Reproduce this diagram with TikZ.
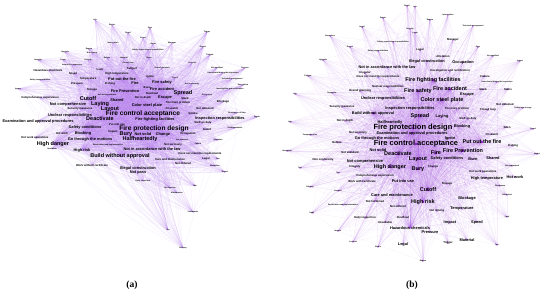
\documentclass[tikz,border=0pt]{standalone}
\usepackage{fontspec}
\newfontfamily\wordfont{Liberation Sans}
\newfontfamily\labelfont{Liberation Serif}
\pgfdeclarelayer{edges}\pgfdeclarelayer{dots}
\pgfsetlayers{edges,dots,main}
\definecolor{edgea}{RGB}{180,125,235}
\definecolor{edgeb}{RGB}{160,80,220}
\definecolor{dotc}{RGB}{140,20,200}
\tikzset{
 word/.style={inner sep=0pt, text=black, font=\wordfont\bfseries\fontsize{#1}{#1}\selectfont},
 w1/.style={word=1.9}, w2/.style={word=2.8}, w3/.style={word=3.9},
 w4/.style={word=5.5}, w5/.style={word=6.6}, w6/.style={word=7.5},
 linka/.style={draw=edgea, line width=0.3pt, opacity=0.14},
 linkb/.style={draw=edgeb, line width=0.25pt, opacity=0.1},
 dot/.style={fill=dotc},
 panellabel/.style={inner sep=0pt, font=\labelfont\bfseries\fontsize{9.5}{10}\selectfont}
}
\begin{document}
\begin{tikzpicture}[x=1pt,y=-1pt]
\useasboundingbox (0,0) rectangle (550,297);
% ---------------- panel (a) ----------------
\foreach \x/\y/\s/\t [count=\i] in {
95/20/w1/Lab, 112/25/w1/Repair, 128/33/w1/Rapid, 150/28/w1/Sign, 207/32/w1/Trigger,
143/38/w1/Guard, 172/43/w1/Manager, 113/43/w1/Intervention, 153/44/w1/Alarm, 89/49/w1/Region,
148/50/w1/Safety supervision responsibilities, 203/47/w1/Export, 65/52/w1/Upgrade, 92/53/w1/Not driving, 210/55/w1/Tailgate,
107/58/w1/Refuse, 124/58/w1/Material, 149/58/w1/Stairs, 128/63/w1/Closed loop, 38/60/w1/Integrity,
63/60/w1/Asset, 88/60/w1/Security, 192/63/w1/Lockout, 72/65/w1/Annual fire inspection, 162/68/w1/Overall planning,
217/68/w1/Not qualified, 245/68/w1/Furnace, 100/69/w2/Lock, 132/69/w2/Subject, 48/70/w2/Hazardous chemicals,
73/74/w2/Speed, 117/74/w2/High temperature, 223/73/w1/It was found during the inspection, 40/80/w1/Safety responsibilities, 88/79/w2/Temperature,
122/79/w3/Put out the fire, 175/78/w1/Check, 232/79/w1/Technical management, 150/77/w2/Ignite, 162/82/w3/Fire safety,
192/84/w1/Non conformity, 135/83/w3/Fire, 77/84/w2/Pressure, 110/84/w2/Fishing, 147/88/w2/Burn,
162/89/w3/Fire accident, 230/89/w1/Investigation and rectification, 243/85/w1/Description, 18/89/w1/Ignore, 92/90/w2/Storage,
125/91/w3/Fire Prevention, 152/93/w2/Overhaul, 183/93/w4/Spread, 107/95/w1/Hot work operations, 40/98/w2/Comprehensive supervision,
88/99/w4/Cutoff, 117/100/w3/Shared, 143/98/w2/Not in depth, 165/98/w3/Escape, 185/98/w2/Stack,
207/95/w1/Occupancy, 68/104/w3/Not comprehensive, 100/104/w4/Laying, 147/105/w3/Color steel plate, 178/103/w2/The main problem,
223/102/w2/Blockage, 80/109/w2/Security measures, 110/109/w4/Layout, 172/108/w2/On watch, 205/108/w2/Not obtained,
70/115/w3/Unclear responsibilities, 143/114/w5/Fire control acceptance, 193/113/w2/Smoke, 237/113/w1/Description of duty, 257/117/w1/Repair,
38/121/w3/Examination and approval procedures, 100/119/w4/Deactivate, 155/119/w3/Fire fighting facilities, 220/118/w3/Inspection responsibilities, 117/124/w2/Put into use,
85/127/w3/Safety conditions, 154/129/w5/Fire protection design, 203/123/w2/Staff on duty, 235/128/w1/Uncharacteristic, 207/129/w2/Guard,
62/133/w2/Hot work, 83/133/w3/Blocking, 113/132/w2/Impact, 35/138/w2/Hot work operations, 90/139/w3/Go through the motions,
126/134/w4/Bury, 143/134/w3/Not solid, 163/134/w3/Change, 188/134/w2/Occupation, 53/144/w4/High danger,
140/139/w4/Halfheartedly, 182/140/w1/Not standard, 198/144/w1/Failure, 218/140/w1/Alteration, 52/149/w1/Vandalism,
82/150/w3/High risk, 108/145/w1/Rectification and implementation, 173/145/w2/Not seriously, 152/149/w3/Not in accordance with the law, 120/156/w4/Build without approval,
200/154/w2/Does not meet the requirements, 170/159/w2/Care and maintenance, 206/159/w2/Legal, 218/159/w1/Fire, 183/163/w2/Not ordered,
215/166/w1/Workplace, 92/165/w2/Work without certificate, 138/168/w3/Illegal construction, 138/173/w3/Not pass, 225/172/w1/Export,
143/181/w1/Daily inspection, 195/186/w1/Site, 170/188/w1/Not rigorous, 177/193/w1/Maintenance, 193/212/w1/Inadequate,
168/230/w1/Tax, 183/248/w1/Delivery}
{ \node[style=\s] (a\i) at (\x,\y) {\t}; }
\begin{pgfonlayer}{edges}
\foreach \i in {1,...,122} {
  \foreach \h in {72,82,68,63,56,77,53,96,105,95,91,46,64,78,51,81,90,36,40,57,59,87,93,101,104} {
    \ifnum\i=\h\else \draw[linka] (a\i.center) to[bend left=12] (a\h.center); \fi
  }
  \foreach \k in {5,17,41,59} {
    \pgfmathtruncatemacro\j{mod(\i+\k-1,122)+1}
    \draw[linka] (a\i.center) to[bend left=12] (a\j.center);
  }
}
\end{pgfonlayer}
% ---------------- panel (b) ----------------
\foreach \x/\y/\s/\t [count=\i] in {
407/6/w1/Rapid, 383/18/w1/Repair, 415/7/w1/Lab, 448/15/w1/Intervention, 430/20/w1/Region,
362/27/w1/Angel, 410/29/w1/Security, 473/26/w1/Technical management, 330/36/w1/Hazardous, 415/33/w1/Asset,
393/42/w1/Safety supervision responsibilities, 350/47/w1/Export, 453/40/w2/Manager, 378/51/w1/Safety responsibilities, 478/47/w1/Sign,
420/50/w2/Legal, 443/56/w2/Alteration, 493/56/w1/Not qualified, 323/60/w1/Upgrade, 520/61/w1/Ignore,
427/61/w3/Illegal construction, 463/62/w3/Occupation, 387/67/w3/Not in accordance with the law, 365/73/w2/Irregular, 378/77/w2/Does not meet the requirements,
450/71/w2/Investigation and rectification, 308/76/w1/Tailgate, 485/76/w2/Failure, 433/80/w4/Fire fighting facilities, 497/82/w1/It was found during the inspection,
295/94/w1/Lab, 332/93/w1/Supervise, 360/91/w2/Overall planning, 388/87/w2/Nuclear responsibilities, 418/91/w4/Fire safety,
450/89/w4/Fire accident, 483/89/w2/Stack, 508/89/w2/Stairs, 383/98/w3/Unclear responsibilities, 442/100/w4/Color steel plate,
467/95/w3/Escape, 505/104/w2/Not obtained, 523/108/w1/Safety into storage, 342/107/w2/Security measures, 410/108/w3/Inspection responsibilities,
457/109/w2/The main problem, 488/110/w2/Closed loop, 373/113/w3/Build without approval, 290/122/w1/Lab, 345/121/w2/Not in depth,
390/122/w3/Halfheartedly, 420/116/w4/Spread, 442/117/w3/Laying, 468/119/w2/Staff on duty, 413/128/w6/Fire protection design,
462/126/w3/Blocking, 507/127/w2/Siren, 533/129/w1/Guard, 310/135/w1/Comprehensive, 358/133/w2/Not seriously,
377/138/w3/Go through the motions, 412/133/w3/Examination and approval procedures, 492/134/w2/On watch, 337/142/w2/Refuse, 416/144/w6/Fire control acceptance,
450/138/w3/Ignite, 482/142/w4/Put out the fire, 513/146/w2/Fishing, 287/151/w1/Vandalism, 350/152/w2/Not standard,
378/150/w3/Not solid, 398/154/w4/Deactivate, 436/153/w4/Fire, 463/151/w4/Fire Prevention, 537/154/w1/Nudge,
323/160/w2/Non conformity, 365/161/w3/Not comprehensive, 418/159/w4/Layout, 447/158/w3/Safety conditions, 473/159/w3/Burn,
493/158/w3/Shared, 512/166/w1/Not guaranteed, 300/168/w1/Tail, 355/167/w2/Integrity, 390/167/w4/High danger,
418/169/w4/Bury, 433/167/w2/Change, 338/173/w1/Tax, 375/176/w2/Comprehensive supervision, 483/172/w2/Hot work operations,
487/178/w3/High temperature, 515/177/w3/Hot work, 403/181/w3/Put into use, 362/181/w2/Work with certificate, 447/184/w2/Storage,
500/186/w1/Storehouse, 310/187/w1/Delivery, 338/191/w1/Furnace, 392/195/w3/Care and maintenance, 428/190/w4/Cutoff,
375/201/w2/Not hardened, 467/198/w3/Blockage, 507/195/w1/Unblocked, 343/205/w1/Rectification and implementation, 398/206/w2/Not ordered,
423/202/w4/High risk, 312/213/w1/Daily, 437/211/w2/Not driving, 462/209/w3/Temperature, 365/218/w2/Daily inspection,
403/217/w2/Overhaul, 507/217/w1/Lock, 385/222/w2/Unsuitable, 450/223/w3/Impact, 477/222/w3/Speed,
338/231/w1/Inspect, 410/228/w3/Hazardous chemicals, 430/232/w3/Pressure, 353/242/w1/Lockout, 378/247/w1/Status,
403/244/w3/Legal, 467/240/w3/Material, 448/243/w2/Trigger, 497/245/w1/Lab, 423/261/w1/Region}
{ \node[style=\s] (b\i) at (\x,\y) {\t}; }
\begin{pgfonlayer}{dots}
\foreach \i in {1,...,125} { \fill[dot] (b\i.center) circle[radius=0.7pt]; }
\foreach \h in {55,65,52,78,72,36,40,29,73,74,100,106,86,85,67,35,48} { \fill[dot] (b\h.center) circle[radius=1.2pt]; }
\end{pgfonlayer}
\begin{pgfonlayer}{edges}
\foreach \i in {1,...,125} {
  \foreach \h in {55,65,52,78,72,36,40,29,73,74,100,106,86,85,67,35,48,62,117} {
    \ifnum\i=\h\else \draw[linkb] (b\i.center) -- (b\h.center); \fi
  }
  \foreach \k in {9,31} {
    \pgfmathtruncatemacro\j{mod(\i+\k-1,125)+1}
    \draw[linkb] (b\i.center) -- (b\j.center);
  }
}
\end{pgfonlayer}
\node[panellabel] (la) at (132,285) {(a)};
\node[panellabel] (lb) at (412,285) {(b)};
\end{tikzpicture}
\end{document}
